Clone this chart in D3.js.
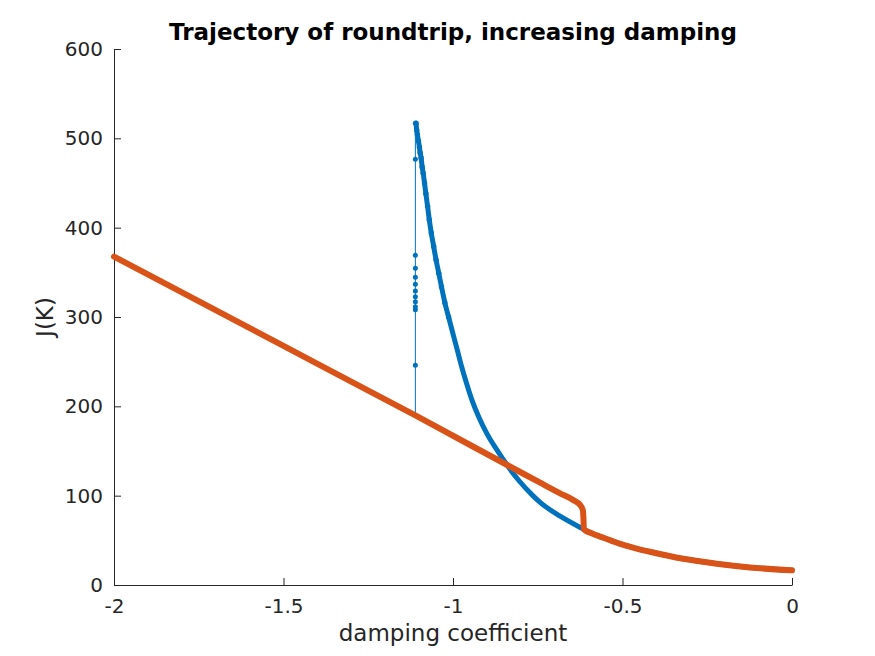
<!DOCTYPE html>
<html><head><meta charset="utf-8">
<script src="https://cdn.jsdelivr.net/npm/d3@7"></script>
<style>
body{margin:0;background:#fff;}
text{font-family:"DejaVu Sans",sans-serif;fill:#262626;}
</style></head>
<body>
<svg id="chart" width="875" height="656"></svg>
<script>
// ---- data ----
const xTicks = [-2, -1.5, -1, -0.5, 0];
const xTickLabels = ["-2", "-1.5", "-1", "-0.5", "0"];
const yTicks = [0, 100, 200, 300, 400, 500, 600];
const yTickLabels = ["0", "100", "200", "300", "400", "500", "600"];

// blue: vertical spike of points at the jump damping value
const spikeX = -1.111;
const spikeY = [192, 246, 308, 311.5, 317, 322.7, 329, 336.6, 344.4, 354.5, 369, 476.5, 517];

// blue: decaying branch after the jump
const blueX = [-1.109, -1.107, -1.105, -1.102, -1.099, -1.097, -1.094, -1.091, -1.088, -1.084, -1.080, -1.075, -1.070, -1.064, -1.057, -1.050, -1.042, -1.034, -1.024, -1.013, -1.000, -0.988, -0.976, -0.961, -0.944, -0.924, -0.900, -0.870, -0.840, -0.807, -0.763, -0.743, -0.684, -0.620, -0.614, -0.591, -0.566, -0.537, -0.507, -0.458, -0.419, -0.321, -0.222, -0.124, 0];
const blueY = [517, 509, 504, 497, 490, 484, 478, 468, 461, 450, 438, 424, 409, 394, 379, 364, 349, 334, 316, 300, 281, 264, 246.5, 227, 207, 188, 169.5, 151, 134, 117.5, 99.5, 92.5, 77, 63.5, 62.3, 57.9, 54.2, 50.3, 46, 40.8, 37.2, 29.3, 23.8, 19.7, 16.5];

// orange: trajectory
const orangeX = [-2, -1.5, -1.111, -0.802, -0.743, -0.684, -0.645, -0.625, -0.617, -0.615, -0.614, -0.591, -0.566, -0.537, -0.507, -0.458, -0.419, -0.321, -0.222, -0.124, 0];
const orangeY = [367.6, 267.6, 189.8, 126.5, 114.5, 102.6, 95, 89.5, 84, 72.8, 62.3, 57.9, 54.2, 50.3, 46, 40.8, 37.2, 29.3, 23.8, 19.7, 16.5];

// ---- drawing ----
const svg = d3.select("#chart");
const x = d3.scaleLinear().domain([-2, 0]).range([114, 792]);
const y = d3.scaleLinear().domain([0, 600]).range([585, 49]);
const blue = "#0072BD", orange = "#D95319", axisCol = "#262626";

// axes (ticks inside, box off)
const xAxis = d3.axisBottom(x).tickValues(xTicks).tickFormat((d, i) => xTickLabels[i])
  .tickSizeInner(-7).tickSizeOuter(0).tickPadding(14);
const gx = svg.append("g").attr("transform", "translate(0,585)").call(xAxis);
const yAxis = d3.axisLeft(y).tickValues(yTicks).tickFormat((d, i) => yTickLabels[i])
  .tickSizeInner(-7).tickSizeOuter(0).tickPadding(11);
const gy = svg.append("g").attr("transform", "translate(114,0)").call(yAxis);
[gx, gy].forEach(g => {
  g.select(".domain").attr("stroke", axisCol).attr("stroke-width", 1);
  g.selectAll(".tick line").attr("stroke", axisCol).attr("stroke-width", 1);
  g.selectAll(".tick text").attr("font-family", "DejaVu Sans").attr("font-size", 20).attr("fill", axisCol);
});

// blue spike: thin line with dots
const spikeLine = d3.line().x(() => x(spikeX)).y(d => y(d));
svg.append("path").attr("d", spikeLine([spikeY[0], spikeY[spikeY.length - 1]]))
  .attr("stroke", blue).attr("stroke-width", 1).attr("fill", "none");
svg.append("g").selectAll("circle").data(spikeY.slice(1)).join("circle")
  .attr("cx", x(spikeX)).attr("cy", d => y(d)).attr("r", 2.5).attr("fill", blue);

// blue branch
const blueData = blueX.map((v, i) => [v, blueY[i]]);
const smooth = d3.line().x(d => x(d[0])).y(d => y(d[1])).curve(d3.curveMonotoneX);
svg.append("path").attr("d", smooth(blueData)).attr("stroke", blue).attr("stroke-width", 5)
  .attr("fill", "none").attr("stroke-linejoin", "round").attr("stroke-linecap", "round");
svg.append("g").selectAll("circle").data(blueData.slice(0, 20)).join("circle")
  .attr("cx", d => x(d[0])).attr("cy", d => y(d[1])).attr("r", 2.7).attr("fill", blue);

// orange trajectory
const orangeData = orangeX.map((v, i) => [v, orangeY[i]]);
svg.append("path").attr("d", smooth(orangeData)).attr("stroke", orange).attr("stroke-width", 6)
  .attr("fill", "none").attr("stroke-linejoin", "round").attr("stroke-linecap", "round");

// labels
svg.append("text").attr("x", 453).attr("y", 40).attr("text-anchor", "middle")
  .attr("font-size", 23).attr("font-weight", "bold").style("fill", "#000")
  .text("Trajectory of roundtrip, increasing damping");
svg.append("text").attr("x", 453).attr("y", 641).attr("text-anchor", "middle")
  .attr("font-size", 23).text("damping coefficient");
svg.append("text").attr("transform", "translate(53,317) rotate(-90)").attr("text-anchor", "middle")
  .attr("font-size", 23).text("J(K)");
</script>
</body></html>
